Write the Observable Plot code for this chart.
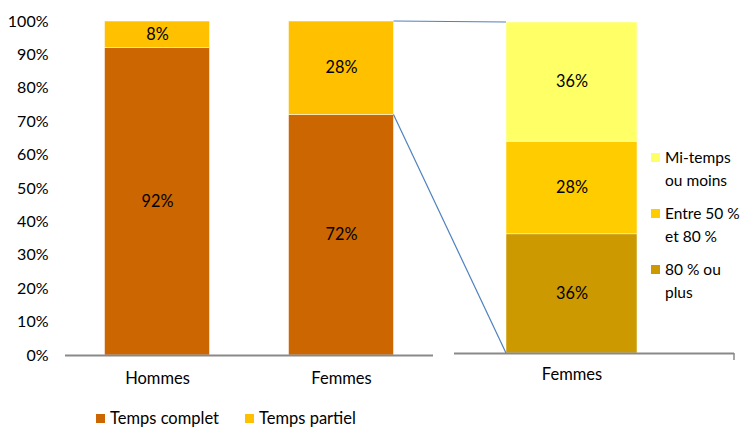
<!DOCTYPE html>
<html><head><meta charset="utf-8">
<script src="https://cdn.jsdelivr.net/npm/d3@7"></script>
<script src="https://cdn.jsdelivr.net/npm/@observablehq/plot@0.6"></script>
<style>
body{margin:0;background:#fff;font-family:Lato,"Open Sans",sans-serif;color:#000;}
#wrap{position:relative;width:742px;height:429px;overflow:hidden;background:#fff;}
.panel{position:absolute;top:0;}
#overlay{position:absolute;left:0;top:0;pointer-events:none;}
#legendRight{position:absolute;left:651px;top:146px;font-size:15.5px;line-height:23px;white-space:nowrap;}
#legendRight .item{display:flex;align-items:flex-start;margin-bottom:10px;}
#legendRight .sw{width:9px;height:9px;margin-top:7px;margin-right:5px;flex:none;}
#legendBottom{position:absolute;left:96px;top:408px;font-size:16.5px;line-height:20px;display:flex;white-space:nowrap;}
#legendBottom .item{display:flex;align-items:center;margin-right:26px;}
#legendBottom .sw{width:9px;height:9px;margin-right:5px;}
</style></head><body>
<div id="wrap"></div>
<script>
// ---- data ----
const sexes = ["Hommes", "Femmes"];
const regimes = ["Temps complet", "Temps partiel"];
const regimeColors = ["#CC6600", "#FFC000"];
const hommesValues = [0.92, 0.08];
const femmesValues = [0.72, 0.28];
const detailCategory = ["Femmes"];
const partielCats = ["80 % ou plus", "Entre 50 % et 80 %", "Mi-temps ou moins"];
const partielColors = ["#CC9900", "#FFCC00", "#FFFF66"];
const partielValues = [0.36, 0.28, 0.36];
const partielLegendLines = [["80 % ou", "plus"], ["Entre 50 %", "et 80 %"], ["Mi-temps", "ou moins"]];
const yTicks = [0, 0.1, 0.2, 0.3, 0.4, 0.5, 0.6, 0.7, 0.8, 0.9, 1];

const pct = d3.format(".0%");
function stackRows(cat, keys, values) {
  let acc = 0;
  return keys.map((k, i) => {
    const r = {cat, key: k, value: values[i], y1: acc, y2: acc + values[i]};
    r.mid = (r.y1 + r.y2) / 2;
    acc += values[i];
    return r;
  });
}
const leftRows = [
  ...stackRows("Hommes", regimes, hommesValues),
  ...stackRows("Femmes", regimes, femmesValues)
];
const rightRows = stackRows("Femmes", partielCats, partielValues);

const font = {fontFamily: "Lato, 'Open Sans', sans-serif", fontSize: "16.5px", color: "#000", background: "transparent", overflow: "visible"};
const LW = 445, RW = 297, H = 400;
const leftInset = 39.5, rightInsetL = 52, rightInsetR = 97;
const labelSize = 16.3;

const left = Plot.plot({
  width: LW, height: H,
  marginLeft: 65, marginRight: 12, marginTop: 21, marginBottom: 45,
  style: font,
  x: {domain: sexes, padding: 0, label: null, axis: null},
  y: {domain: [0, 1], axis: null},
  color: {domain: regimes, range: regimeColors},
  marks: [
    Plot.barY(leftRows, {x: "cat", y1: "y1", y2: "y2", fill: "key", insetLeft: leftInset, insetRight: leftInset, stroke: "#fff", strokeWidth: 0.5}),
    Plot.ruleY([0], {stroke: "#898989", strokeWidth: 2}),
    Plot.axisX({tickSize: 0, tickPadding: 17, label: null, fontSize: 16.5}),
    Plot.axisY({ticks: yTicks, tickFormat: pct, label: null, tickSize: 0, tickPadding: 17, fontSize: 16}),
    Plot.text(leftRows, {x: "cat", y: "mid", text: d => pct(d.value), fill: "#000", fontSize: labelSize})
  ]
});

const right = Plot.plot({
  width: RW, height: H,
  marginLeft: 9, marginRight: 8, marginTop: 22, marginBottom: 47,
  style: font,
  x: {domain: detailCategory, padding: 0, label: null, axis: null},
  y: {domain: [0, 1], axis: null},
  color: {domain: partielCats, range: partielColors},
  marks: [
    Plot.barY(rightRows, {x: "cat", y1: "y1", y2: "y2", fill: "key", insetLeft: rightInsetL, insetRight: rightInsetR, stroke: "#fff", strokeWidth: 0.5}),
    Plot.ruleY([0], {stroke: "#898989", strokeWidth: 2}),
    Plot.axisX({tickSize: 0, tickPadding: 15, dx: (rightInsetL - rightInsetR) / 2, label: null, fontSize: 16.5}),
    Plot.text(rightRows, {x: "cat", y: "mid", dx: (rightInsetL - rightInsetR) / 2, text: d => pct(d.value), fill: "#000", fontSize: labelSize})
  ]
});

const wrap = document.getElementById("wrap");
left.classList.add("panel"); left.style.left = "0px";
right.classList.add("panel"); right.style.left = LW + "px";
wrap.appendChild(left);
wrap.appendChild(right);

// connector lines computed from the scales
const lx = left.scale("x"), ly = left.scale("y");
const rx = right.scale("x"), ry = right.scale("y");
const fx2 = lx.apply("Femmes") + lx.bandwidth - leftInset;
const rx1 = LW + rx.apply("Femmes") + rightInsetL;
const conn = [
  [[fx2, ly.apply(1)], [rx1, ry.apply(1)]],
  [[fx2, ly.apply(femmesValues[0])], [rx1, ry.apply(0)]]
];
const ov = d3.select(wrap).append("svg").attr("id", "overlay").attr("width", 742).attr("height", 429);
ov.selectAll("line").data(conn).join("line")
  .attr("x1", d => d[0][0]).attr("y1", d => d[0][1])
  .attr("x2", d => d[1][0]).attr("y2", d => d[1][1])
  .attr("stroke", "#4F81BD").attr("stroke-width", 1.2);
// small end tick on right axis
ov.append("line")
  .attr("x1", LW + RW - 8).attr("x2", LW + RW - 8)
  .attr("y1", ry.apply(0)).attr("y2", ry.apply(0) + 7)
  .attr("stroke", "#898989").attr("stroke-width", 1.5);

// right legend (top to bottom: reverse stack order)
const lr = d3.select(wrap).append("div").attr("id", "legendRight");
[2, 1, 0].forEach(i => {
  const it = lr.append("div").attr("class", "item");
  it.append("div").attr("class", "sw").style("background", partielColors[i]);
  it.append("div").html(partielLegendLines[i].join("<br>"));
});

// bottom legend
const lb = d3.select(wrap).append("div").attr("id", "legendBottom");
regimes.forEach((r, i) => {
  const it = lb.append("div").attr("class", "item");
  it.append("div").attr("class", "sw").style("background", regimeColors[i]);
  it.append("span").text(r);
});
</script>
</body></html>
